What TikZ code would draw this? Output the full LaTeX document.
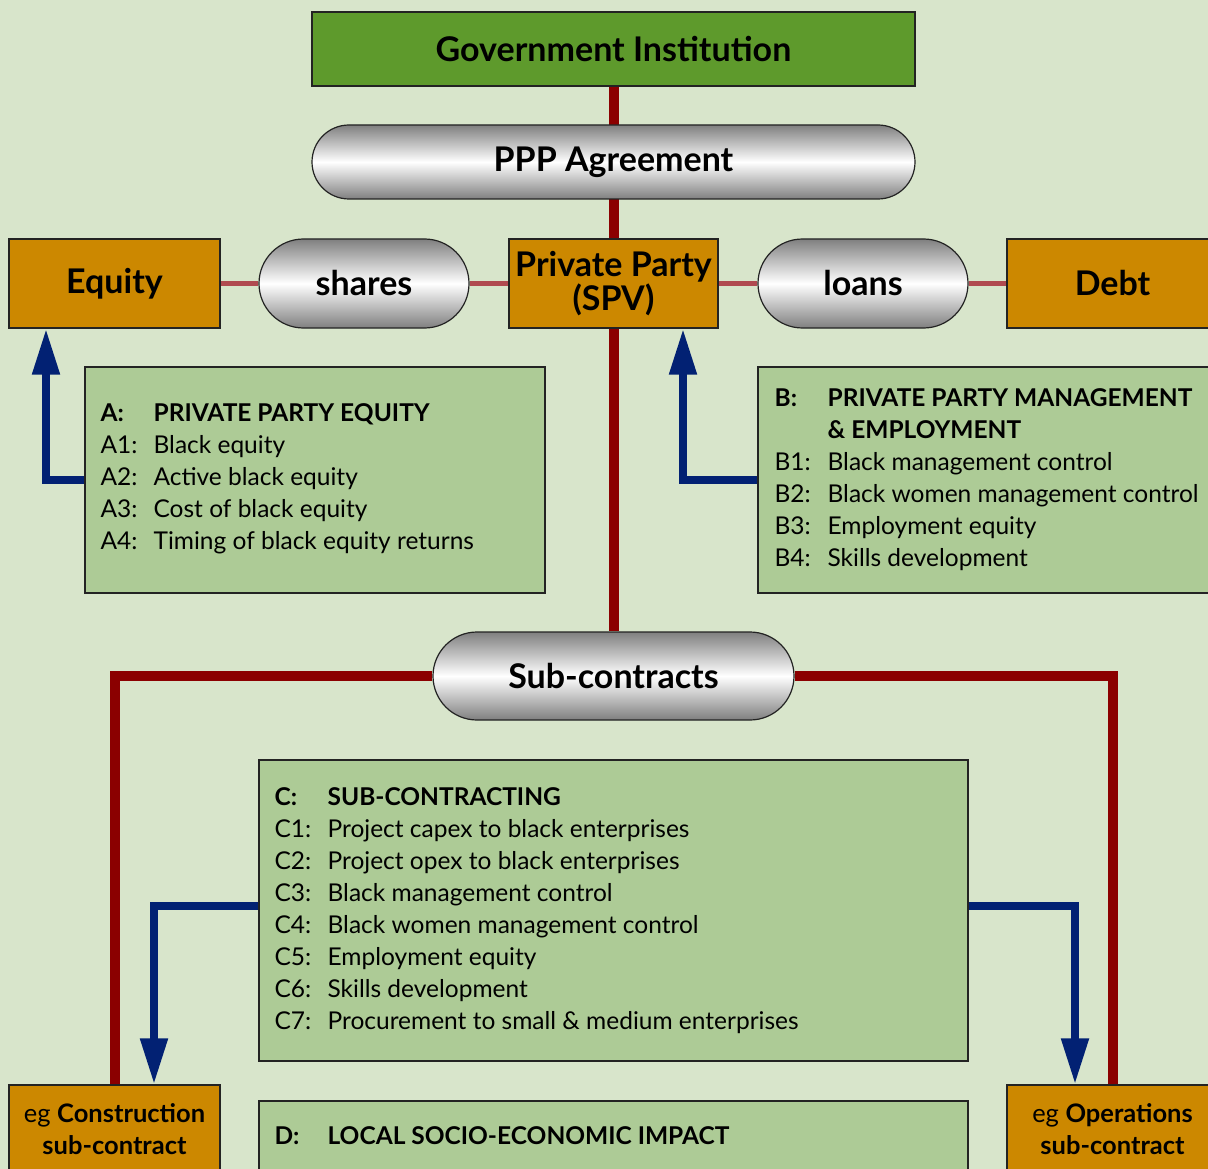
\documentclass[tikz,border=0pt]{standalone}
\usepackage{fontspec}
\setmainfont{Lato}
\usetikzlibrary{arrows.meta,positioning,calc}

\definecolor{pagegreen}{RGB}{216,229,203}
\definecolor{govgreen}{RGB}{94,154,44}
\definecolor{fundorange}{RGB}{204,136,0}
\definecolor{infogreen}{RGB}{173,203,150}
\definecolor{linkred}{RGB}{139,0,0}
\definecolor{sidered}{RGB}{176,74,80}
\definecolor{flowblue}{RGB}{2,33,115}
\definecolor{boxline}{RGB}{35,35,35}

\pgfdeclarelayer{bg}
\pgfdeclarelayer{links}
\pgfsetlayers{bg,links,main}

\tikzset{
  box/.style={draw=boxline, line width=1.2pt, inner sep=0pt},
  govbox/.style={box, fill=govgreen, minimum width=603pt, minimum height=74pt,
    font=\fontsize{34}{32}\selectfont\bfseries},
  fundbox/.style={box, fill=fundorange, minimum width=211pt, minimum height=89pt,
    align=center, font=\fontsize{34}{32}\selectfont\bfseries},
  pill/.style={box, rounded corners=#1, top color=black!50, bottom color=black!50,
    middle color=white, font=\fontsize{34}{32}\selectfont\bfseries},
  pill/.default=37pt,
  infobox/.style={box, fill=infogreen},
  infotext/.style={anchor=north west, inner sep=0pt, align=left,
    font=\fontsize{24.5}{32}\selectfont},
  mainlink/.style={draw=linkred, line width=10pt},
  sidelink/.style={draw=sidered, line width=5pt},
  flow/.style={draw=flowblue, line width=8pt, -{Triangle[length=46pt,width=26pt]}},
}
\newcommand{\itemtag}[1]{\makebox[53pt][l]{#1}}

\begin{document}
\begin{tikzpicture}[x=1pt,y=-1pt]
  \useasboundingbox (0,0) rectangle (1208,1169);
  \begin{pgfonlayer}{bg}
    \fill[pagegreen] (0,0) rectangle (1208,1169);
  \end{pgfonlayer}

  % top of the structure
  \node[govbox] (gov) at (613.5,49) {Government Institution};
  \node[pill, minimum width=603pt, minimum height=74pt] (ppp) at (613.5,162) {PPP Agreement};

  % funding row
  \node[fundbox] (equity) at (114.5,283.5) {Equity};
  \node[pill=44.5pt, minimum width=210pt, minimum height=89pt] (shares) at (364,283.5) {shares};
  \node[fundbox, minimum width=209pt] (spv) at (613.5,283.5) {Private Party\\(SPV)};
  \node[pill=44.5pt, minimum width=210pt, minimum height=89pt] (loans) at (863,283.5) {loans};
  \node[fundbox] (debt) at (1112.5,283.5) {Debt};

  % A and B
  \node[infobox, minimum width=460pt, minimum height=226pt] (boxA) at (315,480) {};
  \node[infotext] (textA) at ([xshift=16pt,yshift=-37pt]boxA.north west)
    {\itemtag{\bfseries A:}\textbf{PRIVATE PARTY EQUITY}\\
     \itemtag{A1:}Black equity\\
     \itemtag{A2:}Active black equity\\
     \itemtag{A3:}Cost of black equity\\
     \itemtag{A4:}Timing of black equity returns};
  \node[infobox, minimum width=460pt, minimum height=226pt] (boxB) at (988,480) {};
  \node[infotext] (textB) at ([xshift=17pt,yshift=-22pt]boxB.north west)
    {\itemtag{\bfseries B:}\textbf{PRIVATE PARTY MANAGEMENT}\\
     \itemtag{}\textbf{\& EMPLOYMENT}\\
     \itemtag{B1:}Black management control\\
     \itemtag{B2:}Black women management control\\
     \itemtag{B3:}Employment equity\\
     \itemtag{B4:}Skills development};

  % sub-contracts
  \node[pill=44pt, minimum width=361pt, minimum height=88pt] (sub) at (613.5,676) {Sub-contracts};
  \node[infobox, minimum width=709pt, minimum height=301pt] (boxC) at (613.5,910.5) {};
  \node[infotext] (textC) at ([xshift=16pt,yshift=-28pt]boxC.north west)
    {\itemtag{\bfseries C:}\textbf{SUB-CONTRACTING}\\
     \itemtag{C1:}Project capex to black enterprises\\
     \itemtag{C2:}Project opex to black enterprises\\
     \itemtag{C3:}Black management control\\
     \itemtag{C4:}Black women management control\\
     \itemtag{C5:}Employment equity\\
     \itemtag{C6:}Skills development\\
     \itemtag{C7:}Procurement to small \& medium enterprises};
  \node[fundbox, font=\fontsize{25.5}{32}\selectfont] (build) at (114.5,1129.5) {eg \textbf{Construction}\\\textbf{sub-contract}};
  \node[fundbox, font=\fontsize{25.5}{32}\selectfont] (operate) at (1112.5,1129.5) {eg \textbf{Operations}\\\textbf{sub-contract}};
  \node[infobox, minimum width=709pt, minimum height=226pt] (boxD) at (613.5,1214) {};
  \node[infotext] (textD) at ([xshift=16pt,yshift=-26pt]boxD.north west)
    {\itemtag{\bfseries D:}\textbf{LOCAL SOCIO-ECONOMIC IMPACT}};

  \begin{pgfonlayer}{links}
    \draw[mainlink] (gov.south) -- (sub.north);
    \draw[mainlink] (sub.west) -| (build.north);
    \draw[mainlink] (sub.east) -| (operate.north);
    \draw[sidelink] (equity.east) -- (shares.west);
    \draw[sidelink] (shares.east) -- (spv.west);
    \draw[sidelink] (spv.east) -- (loans.west);
    \draw[sidelink] (loans.east) -- (debt.west);
  \end{pgfonlayer}

  % influence arrows
  \draw[flow] (boxA.west) -| ([xshift=-68.5pt]equity.south);
  \draw[flow] (boxB.west) -| ([xshift=69.5pt]spv.south);
  \draw[flow] ([yshift=5pt]boxC.west) -| ([xshift=39.5pt]build.north);
  \draw[flow] ([yshift=5pt]boxC.east) -| ([xshift=-37.5pt]operate.north);
\end{tikzpicture}
\end{document}
